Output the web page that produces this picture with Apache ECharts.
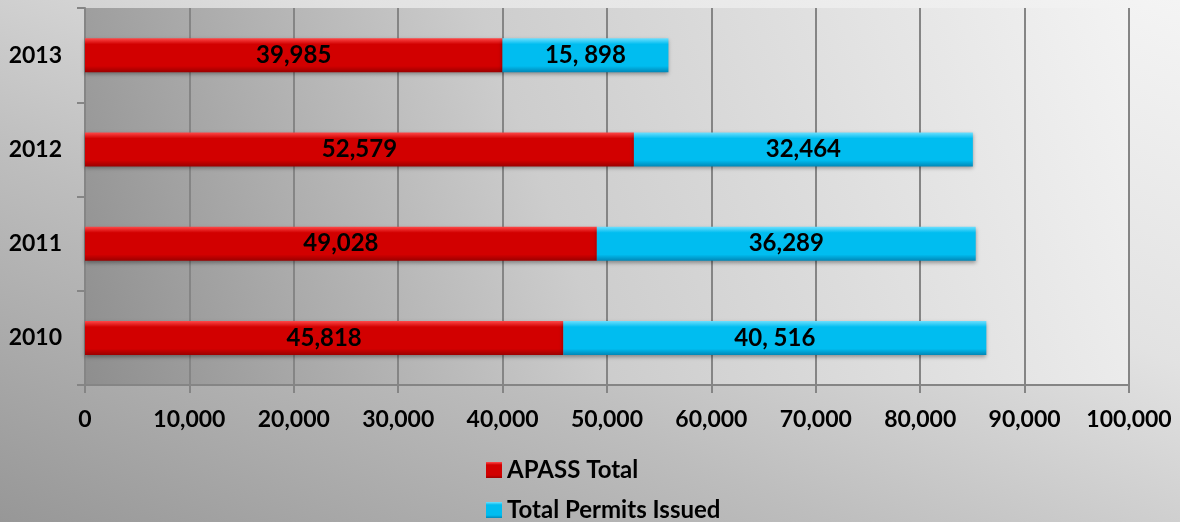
<!DOCTYPE html>
<html>
<head>
<meta charset="utf-8">
<script src="https://cdn.jsdelivr.net/npm/echarts@6/dist/echarts.min.js"></script>
<style>
  html, body { margin: 0; padding: 0; }
  body {
    width: 1180px; height: 522px; overflow: hidden;
    background: linear-gradient(to top right, #979797 0%, #bdbdbd 35%, #e2e2e2 65%, #f4f4f4 100%);
  }
  #chart { width: 1180px; height: 522px; }
</style>
</head>
<body>
<div id="chart"></div>
<script>
  var years = ['2010', '2011', '2012', '2013'];
  var apassTotal = [45818, 49028, 52579, 39985];
  var permitsIssued = [40516, 36289, 32464, 15898];
  // label text exactly as printed on the bars
  var apassLabels = ['45,818', '49,028', '52,579', '39,985'];
  var permitLabels = ['40, 516', '36,289', '32,464', '15, 898'];
  var xTicks = [0, 10000, 20000, 30000, 40000, 50000, 60000, 70000, 80000, 90000, 100000];

  var font = 'Lato, "Open Sans", sans-serif';

  function bevel(top, mid, bottom) {
    return new echarts.graphic.LinearGradient(0, 0, 0, 1, [
      {offset: 0, color: top},
      {offset: 0.18, color: mid},
      {offset: 0.82, color: mid},
      {offset: 1, color: bottom}
    ]);
  }

  var legendText = {fontSize: 24, fontWeight: 'bold', color: '#000', fontFamily: font};

  var chart = echarts.init(document.getElementById('chart'));

  chart.setOption({
    animation: false,
    textStyle: {fontFamily: font},
    grid: {
      left: 85, right: 51, top: 8, bottom: 137,
      show: true, borderWidth: 0,
      backgroundColor: new echarts.graphic.LinearGradient(0, 1, 1, 0, [
        {offset: 0, color: '#8e8e8e'},
        {offset: 0.45, color: '#cdcdcd'},
        {offset: 1, color: '#f3f3f3'}
      ])
    },
    legend: [
      {
        left: 481, top: 453,
        itemWidth: 16, itemHeight: 16, icon: 'rect',
        textStyle: legendText,
        data: ['APASS Total']
      },
      {
        left: 481, top: 493,
        itemWidth: 16, itemHeight: 16, icon: 'rect',
        textStyle: legendText,
        data: ['Total Permits Issued']
      }
    ],
    xAxis: {
      type: 'value',
      min: 0, max: 100000, interval: 10000,
      axisLine: {show: true, lineStyle: {color: '#858585', width: 2}},
      axisTick: {show: true, length: 8, lineStyle: {color: '#858585', width: 2}},
      splitLine: {show: true, lineStyle: {color: '#858585', width: 2}},
      axisLabel: {
        margin: 23,
        fontSize: 23, fontWeight: 'bold', color: '#000', fontFamily: font,
        formatter: function (v) {
          return xTicks.indexOf(v) >= 0 ? v.toLocaleString('en-US') : '';
        }
      }
    },
    yAxis: {
      type: 'category',
      data: years,
      axisLine: {show: true, lineStyle: {color: '#858585', width: 2}},
      axisTick: {show: true, length: 8, lineStyle: {color: '#858585', width: 2}},
      axisLabel: {margin: 23, fontSize: 23, fontWeight: 'bold', color: '#000', fontFamily: font}
    },
    series: [
      {
        name: 'APASS Total',
        type: 'bar',
        stack: 'total',
        barWidth: 34,
        data: apassTotal,
        itemStyle: {
          color: bevel('#ff4a4a', '#d20000', '#9c0000'),
          shadowColor: 'rgba(0,0,0,0.35)', shadowBlur: 4, shadowOffsetY: 2
        },
        label: {
          show: true, position: 'inside',
          fontSize: 24, fontWeight: 'bold', color: '#000', fontFamily: font,
          formatter: function (p) { return apassLabels[p.dataIndex]; }
        }
      },
      {
        name: 'Total Permits Issued',
        type: 'bar',
        stack: 'total',
        barWidth: 34,
        data: permitsIssued,
        itemStyle: {
          color: bevel('#6fe0ff', '#00bdf0', '#0088b8'),
          shadowColor: 'rgba(0,0,0,0.35)', shadowBlur: 4, shadowOffsetY: 2
        },
        label: {
          show: true, position: 'inside',
          fontSize: 24, fontWeight: 'bold', color: '#000', fontFamily: font,
          formatter: function (p) { return permitLabels[p.dataIndex]; }
        }
      }
    ]
  });
</script>
</body>
</html>
